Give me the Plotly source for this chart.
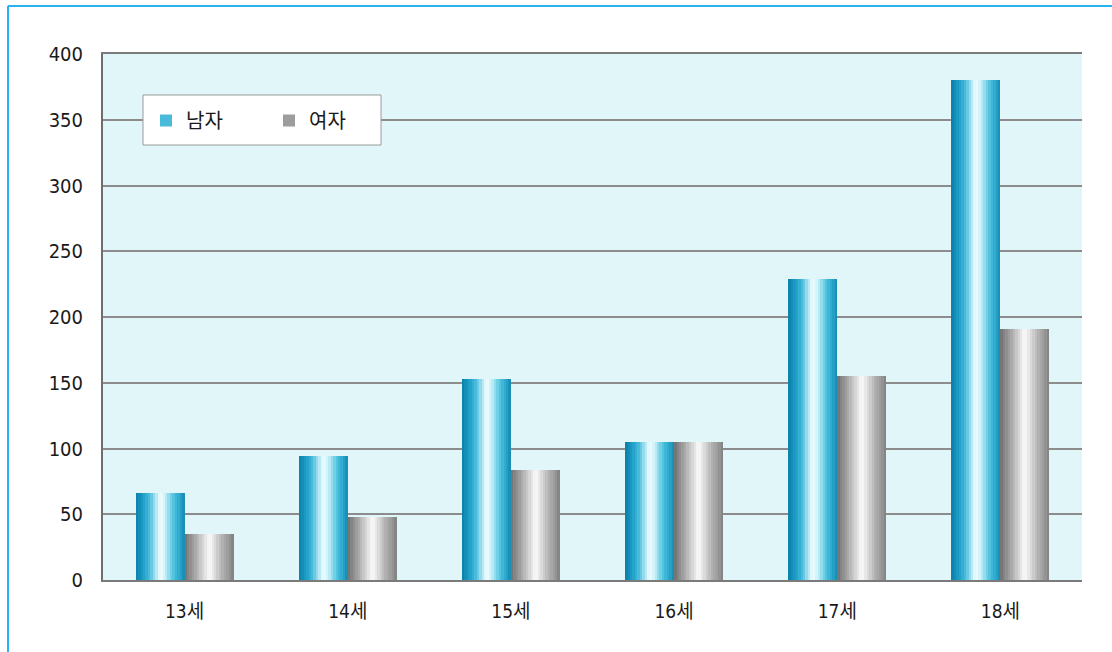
import plotly.graph_objects as go

# Data: counts by age, male (남자) vs female (여자)
categories = ["13세", "14세", "15세", "16세", "17세", "18세"]
male = [66, 94, 153, 105, 229, 380]
female = [35, 48, 84, 105, 155, 191]
y_ticks = [0, 50, 100, 150, 200, 250, 300, 350, 400]

# Horizontal colour stops used to give each bar a cylindrical shading
male_stops = ["#0b7fa6", "#1594bd", "#2aa8cf", "#55c0de", "#a6e2f0", "#f4feff",
              "#c8f0f8", "#7fd6ea", "#45bddb", "#2aa6cc", "#1689b0"]
female_stops = ["#707070", "#8a8a8a", "#a3a3a3", "#c0c0c0", "#dedede", "#fbfbfb",
                "#e2e2e2", "#c4c4c4", "#ababab", "#9a9a9a", "#7e7e7e"]

BAR_W = 0.30     # width of one bar in category units
SLICES = 20      # vertical strips per bar

# plot-area geometry in pixels (used for the page frame and legend box)
PW, PH, ML, MT, MB = 979, 526, 103, 54, 72


def hex_to_rgb(h):
    h = h.lstrip("#")
    return tuple(int(h[i:i + 2], 16) for i in (0, 2, 4))


def sample(stops, t):
    pos = t * (len(stops) - 1)
    i = min(int(pos), len(stops) - 2)
    f = pos - i
    a, b = hex_to_rgb(stops[i]), hex_to_rgb(stops[i + 1])
    r, g, bb = (round(a[k] + (b[k] - a[k]) * f) for k in range(3))
    return f"rgb({r},{g},{bb})"


def px_x(x):
    return (x - ML) / PW


def px_y(y):
    return 1 - (y - MT) / PH


fig = go.Figure()


def add_shaded_bars(values, name, stops, base, legend_slice):
    step = BAR_W / SLICES
    for i in range(SLICES):
        t = (i + 0.5) / SLICES
        fig.add_trace(go.Bar(
            x=categories, y=values,
            offset=base + i * step,
            width=BAR_W - i * step,
            marker=dict(color=sample(stops, t), line=dict(width=0)),
            name=name, legendgroup=name,
            showlegend=(i == legend_slice),
        ))


add_shaded_bars(male, "남자", male_stops, -BAR_W, 5)
add_shaded_bars(female, "여자", female_stops, 0.0, 3)

num_family = "DejaVu Sans Condensed, Liberation Sans, Noto Sans CJK KR, sans-serif"

fig.update_layout(
    width=1112, height=652,
    margin=dict(l=ML, r=1112 - ML - PW, t=MT, b=MB),
    paper_bgcolor="white",
    plot_bgcolor="#e1f6f9",
    barmode="overlay",
    bargap=0,
    showlegend=True,
    legend=dict(
        orientation="h",
        x=px_x(146), y=px_y(101), xanchor="left", yanchor="top",
        bgcolor="rgba(0,0,0,0)", borderwidth=0,
        font=dict(family="Noto Sans CJK KR, sans-serif", size=20, color="#1a1a1a"),
        entrywidth=78, entrywidthmode="pixels",
        traceorder="normal",
        itemclick=False,
    ),
    xaxis=dict(
        type="category",
        showgrid=False,
        showline=True, mirror=True, linecolor="#7a7a7a", linewidth=2,
        ticks="",
        tickfont=dict(family=num_family, size=19, color="#1a1a1a"),
        ticklabelstandoff=13,
    ),
    yaxis=dict(
        range=[0, 400],
        tickvals=y_ticks,
        showgrid=True, gridcolor="#8c8c8c", gridwidth=1.5,
        zeroline=False,
        showline=True, linecolor="#6e6e6e", linewidth=2,
        ticks="",
        tickfont=dict(family=num_family, size=20, color="#1a1a1a"),
        ticklabelstandoff=14,
    ),
    shapes=[
        # white legend panel with grey border, drawn above the grid lines
        dict(type="rect", xref="paper", yref="paper", layer="above",
             x0=px_x(143), x1=px_x(381), y0=px_y(145), y1=px_y(95),
             fillcolor="white", line=dict(color="#9a9a9a", width=1)),
        # thin blue frame along the top and left of the page
        dict(type="line", xref="paper", yref="paper",
             x0=px_x(8), x1=px_x(1112), y0=px_y(6), y1=px_y(6),
             line=dict(color="#29b3ee", width=2)),
        dict(type="line", xref="paper", yref="paper",
             x0=px_x(8), x1=px_x(8), y0=px_y(6), y1=px_y(652),
             line=dict(color="#29b3ee", width=2)),
    ],
)

fig.write_html("out.html")
